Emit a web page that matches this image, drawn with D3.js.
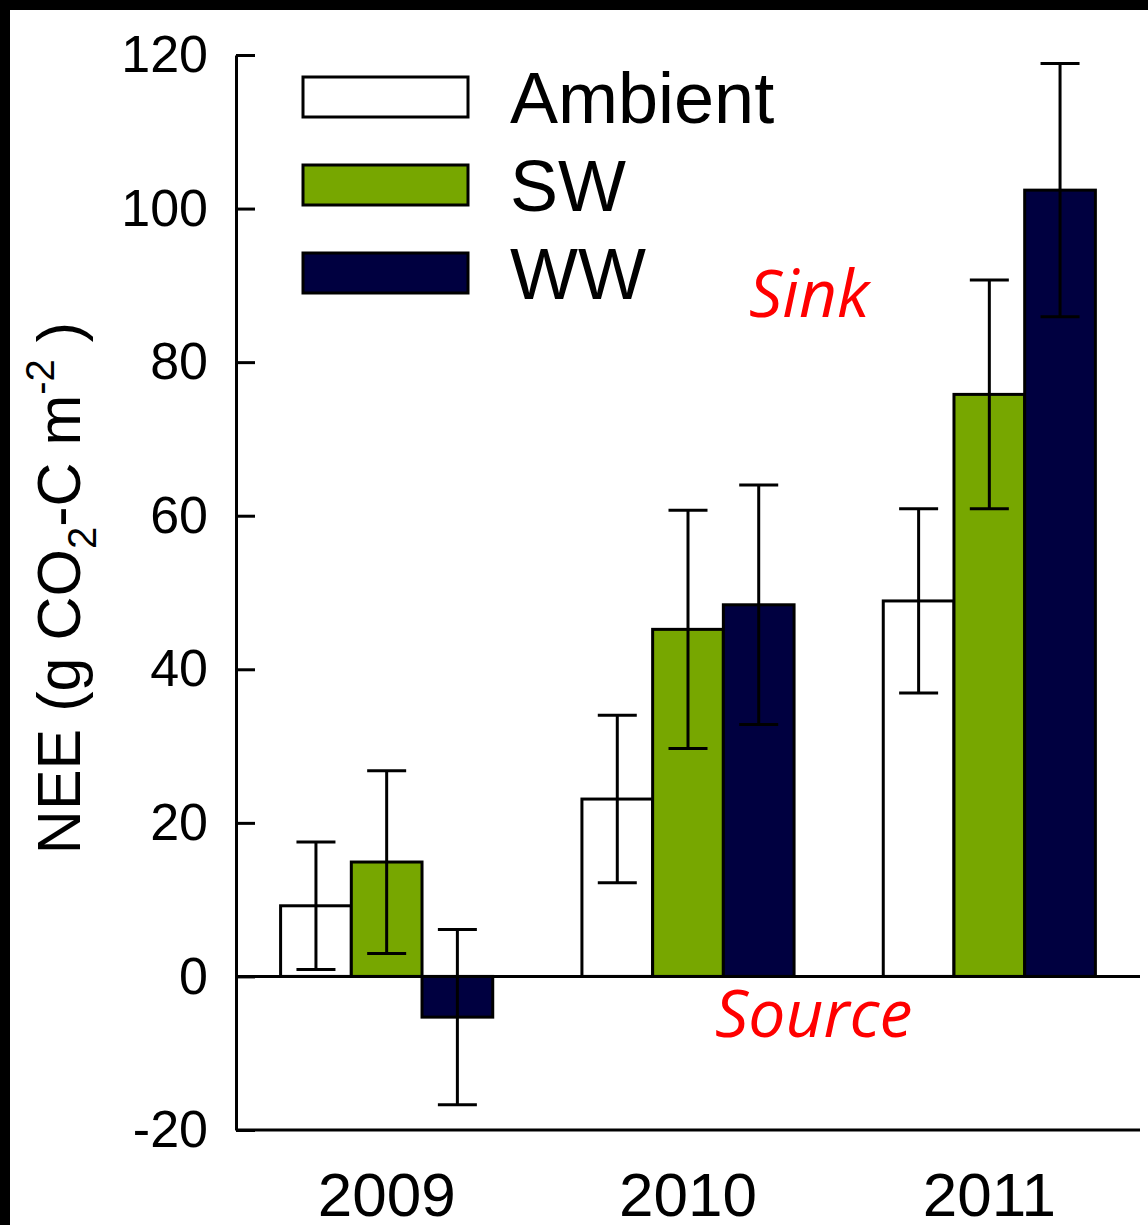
<!DOCTYPE html>
<html>
<head>
<meta charset="utf-8">
<script src="https://cdn.jsdelivr.net/npm/d3@7"></script>
<style>
	body { margin: 0; background: #fff; }
	svg { display: block; }
	text { font-family: "Liberation Sans", Arial, sans-serif; fill: #000; }
</style>
</head>
<body>
<svg id="graph"></svg>
<script>
var screenWidth = 1148;
var screenHeight = 1225;

// data
var years = ['2009', '2010', '2011'];
var treatments = ['Ambient', 'SW', 'WW'];
var colors = ['#ffffff', '#77a700', '#000040'];
var ambient = [9.2, 23.1, 48.9];
var sw = [14.9, 45.2, 75.8];
var ww = [-5.3, 48.4, 102.4];
var ambientErr = [8.3, 10.9, 12.0];
var swErr = [11.9, 15.5, 14.9];
var wwErr = [11.4, 15.6, 16.5];
var yTicks = [-20, 0, 20, 40, 60, 80, 100, 120];

var values = [ambient, sw, ww];
var errors = [ambientErr, swErr, wwErr];

var svg = d3.select('#graph')
	.attr('width', screenWidth)
	.attr('height', screenHeight);

// black frame on top and left
svg.append('rect').attr('x', 0).attr('y', 0).attr('width', screenWidth).attr('height', 10).attr('fill', '#000');
svg.append('rect').attr('x', 0).attr('y', 0).attr('width', 10).attr('height', screenHeight).attr('fill', '#000');

var x = d3.scaleBand()
	.domain(years)
	.range([236, 1140])
	.paddingInner(0.296)
	.paddingOuter(0.148);

var xInner = d3.scaleBand()
	.domain(treatments)
	.range([0, x.bandwidth()]);

var y = d3.scaleLinear()
	.domain([-20, 120])
	.range([1130, 55]);

// flatten into bars
var bars = [];
years.forEach(function(yr, i) {
	treatments.forEach(function(t, j) {
		bars.push({ year: yr, treat: t, color: colors[j], value: values[j][i], err: errors[j][i] });
	});
});

var barGroup = svg.append('g').classed('bars', true);
barGroup.selectAll('rect')
	.data(bars)
	.enter()
	.append('rect')
	.attr('x', function(d) { return x(d.year) + xInner(d.treat); })
	.attr('y', function(d) { return Math.min(y(d.value), y(0)); })
	.attr('width', xInner.bandwidth())
	.attr('height', function(d) { return Math.abs(y(d.value) - y(0)); })
	.attr('fill', function(d) { return d.color; })
	.attr('stroke', '#000')
	.attr('stroke-width', 3);

// error bars
var capW = 39;
var errGroup = svg.append('g').classed('errors', true)
	.attr('stroke', '#000')
	.attr('stroke-width', 3);
var eb = errGroup.selectAll('g')
	.data(bars)
	.enter()
	.append('g')
	.attr('transform', function(d) { return 'translate(' + (x(d.year) + xInner(d.treat) + xInner.bandwidth() / 2) + ',0)'; });
eb.append('line')
	.attr('x1', 0).attr('x2', 0)
	.attr('y1', function(d) { return y(d.value + d.err); })
	.attr('y2', function(d) { return y(d.value - d.err); });
eb.append('line')
	.attr('x1', -capW / 2).attr('x2', capW / 2)
	.attr('y1', function(d) { return y(d.value + d.err); })
	.attr('y2', function(d) { return y(d.value + d.err); });
eb.append('line')
	.attr('x1', -capW / 2).attr('x2', capW / 2)
	.attr('y1', function(d) { return y(d.value - d.err); })
	.attr('y2', function(d) { return y(d.value - d.err); });

// zero line
svg.append('line')
	.attr('x1', 236).attr('x2', 1140)
	.attr('y1', y(0)).attr('y2', y(0))
	.attr('stroke', '#000')
	.attr('stroke-width', 3);

// y axis
var yAxis = svg.append('g')
	.attr('transform', 'translate(236,0)')
	.call(d3.axisLeft(y)
		.tickValues(yTicks)
		.tickFormat(function(d) { return String(d); })
		.tickSizeInner(-19).tickSizeOuter(0).tickPadding(28));
yAxis.selectAll('path, line').attr('stroke', '#000').attr('stroke-width', 3);
yAxis.selectAll('text').style('font-size', '52px').attr('font-family', null);

// x axis
var xAxis = svg.append('g')
	.attr('transform', 'translate(0,' + y(-20) + ')')
	.call(d3.axisBottom(x).tickSize(0).tickPadding(42));
xAxis.select('path').attr('stroke', '#000').attr('stroke-width', 3).attr('d', 'M236,0H1140');
xAxis.selectAll('text').style('font-size', '62px').attr('font-family', null);

// y label
svg.append('text')
	.attr('transform', 'translate(80,588) rotate(-90)')
	.attr('text-anchor', 'middle')
	.style('font-size', '61px')
	.html('NEE (g CO<tspan dy="16" font-size="40">2</tspan><tspan dy="-16">-C m</tspan><tspan dy="-26" font-size="40">-2</tspan><tspan dy="26"> )</tspan>');

// legend
var legend = svg.append('g').classed('legend', true);
var li = legend.selectAll('g')
	.data(treatments)
	.enter()
	.append('g')
	.attr('transform', function(d, i) { return 'translate(303,' + (77 + i * 88) + ')'; });
li.append('rect')
	.attr('width', 165)
	.attr('height', 40)
	.attr('fill', function(d, i) { return colors[i]; })
	.attr('stroke', '#000')
	.attr('stroke-width', 3);
li.append('text')
	.attr('x', 207)
	.attr('y', 46)
	.style('font-size', '72px')
	.text(function(d) { return d; });

// sink / source notes
svg.append('text')
	.attr('x', 749).attr('y', 317)
	.style('font-family', '"Open Sans", sans-serif')
	.style('font-style', 'italic')
	.style('font-size', '66px')
	.style('fill', '#ff0000')
	.text('Sink');
svg.append('text')
	.attr('x', 715).attr('y', 1037)
	.style('font-family', '"Open Sans", sans-serif')
	.style('font-style', 'italic')
	.style('font-size', '66px')
	.style('fill', '#ff0000')
	.text('Source');
</script>
</body>
</html>
